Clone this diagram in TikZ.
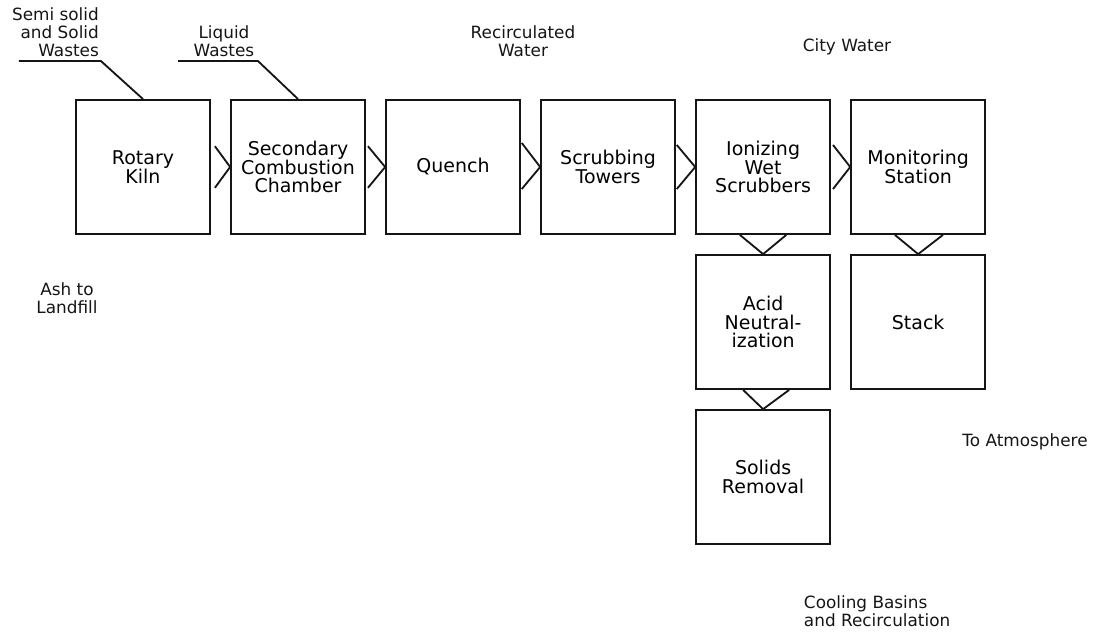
\documentclass[tikz,border=0pt]{standalone}
\usepackage{fontspec}
\setmainfont{DejaVu Sans}
\usepackage{tikz}
\usetikzlibrary{positioning,calc}
\definecolor{ink}{HTML}{151515}

\begin{document}
\begin{tikzpicture}[
  font=\fontsize{13.5}{13.2}\selectfont,
  block/.style={draw=ink,line width=1.3pt,minimum width=3.35cm,minimum height=3.35cm,align=center,inner sep=2pt},
  chev/.style={line width=1.3pt,color=ink},
  feed/.style={line width=1.3pt,color=ink},
  lbl/.style={align=center,text=ink,font=\fontsize{12}{12.8}\selectfont}
]
  \useasboundingbox (-3.575,4.175) rectangle (23.975,-11.7);
  \node[block] (kiln) {Rotary\\Kiln};
  \node[block,right=0.48cm of kiln] (scc) {Secondary\\Combustion\\Chamber};
  \node[block,right=0.48cm of scc] (quench) {Quench};
  \node[block,right=0.48cm of quench] (tower) {Scrubbing\\Towers};
  \node[block,right=0.48cm of tower] (iws) {Ionizing\\Wet\\Scrubbers};
  \node[block,right=0.48cm of iws] (mon) {Monitoring\\Station};
  \node[block,below=0.48cm of iws] (acid) {Acid\\Neutral-\\ization};
  \node[block,below=0.48cm of acid] (solids) {Solids\\Removal};
  \node[block,below=0.48cm of mon] (stack) {Stack};
  % flow chevrons
  \draw[chev] ($(kiln.east)+(0.1,0.52)$) -- (scc.west) -- ($(kiln.east)+(0.1,-0.52)$);
  \draw[chev] ($(scc.east)+(0.05,0.52)$) -- (quench.west) -- ($(scc.east)+(0.05,-0.52)$);
  \draw[chev] ($(quench.east)+(0.02,0.6)$) -- (tower.west) -- ($(quench.east)+(0.02,-0.55)$);
  \draw[chev] ($(tower.east)+(0.02,0.55)$) -- (iws.west) -- ($(tower.east)+(0.02,-0.55)$);
  \draw[chev] ($(iws.east)+(0.05,0.55)$) -- (mon.west) -- ($(iws.east)+(0.05,-0.55)$);
  \draw[chev] ($(iws.south)+(-0.58,0)$) -- (acid.north) -- ($(iws.south)+(0.58,0)$);
  \draw[chev] ($(acid.south)+(-0.5,0)$) -- (solids.north) -- ($(acid.south)+(0.65,0)$);
  \draw[chev] ($(mon.south)+(-0.58,0)$) -- (stack.north) -- ($(mon.south)+(0.62,0)$);
  % feeds
  \draw[feed] (kiln.north) -- ++(-1.05,0.95) -- ++(-2.05,0);
  \draw[feed] (scc.north) -- ++(-1.0,0.95) -- ++(-2.0,0);
  % labels
  \node[lbl,anchor=east,align=right] (solidin) at (-0.98,3.375) {Semi solid\\and Solid\\Wastes};
  \node[lbl] (liquidin) at (2.025,3.15) {Liquid\\Wastes};
  \node[lbl] (recirc) at (9.5,3.15) {Recirculated\\Water};
  \node[lbl] (city) at (17.6,3.0) {City Water};
  \node[lbl] (ash) at (-1.9,-3.275) {Ash to\\Landfill};
  \node[lbl] (atmos) at (22.05,-6.875) {To Atmosphere};
  \node[lbl,anchor=west,align=left] (cool) at (16.4,-11.1) {Cooling Basins\\and Recirculation};
\end{tikzpicture}
\end{document}
